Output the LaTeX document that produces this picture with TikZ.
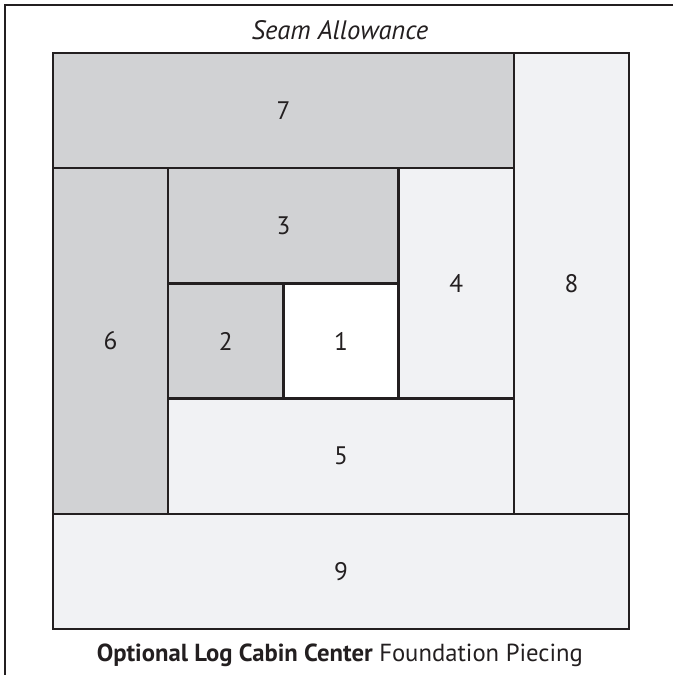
\documentclass[tikz,border=0pt]{standalone}
\usepackage{fontspec}
\setmainfont{PT Sans}
\usepackage{tikz}
\usetikzlibrary{calc}

\definecolor{ink}{HTML}{231F20}
\definecolor{darkpatch}{HTML}{D1D2D4}
\definecolor{lightpatch}{HTML}{F1F2F4}

\begin{document}
\begin{tikzpicture}[x=86.4pt, y=-86.4pt,
	patch/.style={draw=ink, line width=1.8pt},
	num/.style={text=ink, font=\fontsize{19}{22}\selectfont}]
\useasboundingbox (-0.4601,-0.4601) rectangle (5.382,5.399);
\coordinate (tr) at (5.382,-0.4167);
\coordinate (tl) at (-0.4167,-0.4167);
\coordinate (bl) at (-0.4167,5.399);
\draw[ink, line width=1.8pt] (tr) -- (tl) -- (bl);

\draw[patch, fill=darkpatch]  (0,0) rectangle (4,1) node[midway, num] (p7) {7};
\draw[patch, fill=lightpatch] (4,0) rectangle (5,4) node[midway, num] (p8) {8};
\draw[patch, fill=darkpatch]  (0,1) rectangle (1,4) node[midway, num] (p6) {6};
\draw[patch, fill=darkpatch]  (1,1) rectangle (3,2) node[midway, num] (p3) {3};
\draw[patch, fill=lightpatch] (3,1) rectangle (4,3) node[midway, num] (p4) {4};
\draw[patch, fill=darkpatch]  (1,2) rectangle (2,3) node[midway, num] (p2) {2};
\draw[patch, fill=white]      (2,2) rectangle (3,3) node[midway, num] (p1) {1};
\draw[patch, fill=lightpatch] (1,3) rectangle (4,4) node[midway, num] (p5) {5};
\draw[patch, fill=lightpatch] (0,4) rectangle (5,5) node[midway, num] (p9) {9};

\node[num, font=\fontsize{20}{24}\selectfont\itshape] (seam) at (2.49,-0.2) {Seam Allowance};
\node[num, font=\fontsize{18.5}{22}\selectfont] (caption) at (2.49,5.23)
	{\textbf{Optional Log Cabin Center} Foundation Piecing};
\end{tikzpicture}
\end{document}
